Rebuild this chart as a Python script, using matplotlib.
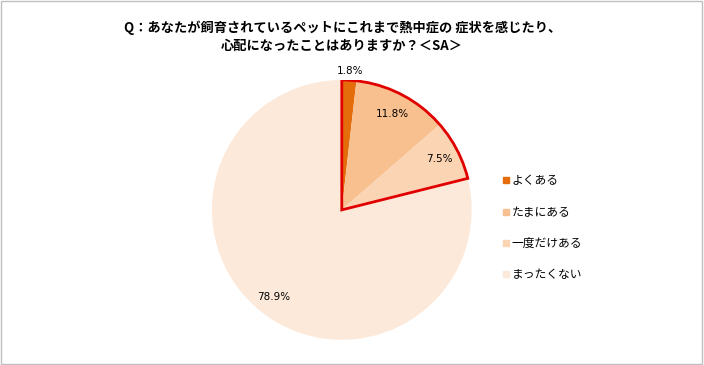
import matplotlib.pyplot as plt
import numpy as np
from matplotlib.patches import Wedge, Rectangle
from matplotlib.lines import Line2D

plt.rcParams['font.family'] = ['Noto Sans CJK JP', 'DejaVu Sans']

# data
categories = ["よくある", "たまにある", "一度だけある", "まったくない"]
values = [1.8, 11.8, 7.5, 78.9]
colors = ["#E46C0A", "#F9C08F", "#FBD4B4", "#FDE9D9"]
label_dist = [1.07, 0.83, 0.85, 0.85]
title = "Q：あなたが飼育されているペットにこれまで熱中症の 症状を感じたり、\n心配になったことはありますか？＜SA＞"

fig = plt.figure(figsize=(7.04, 3.65), dpi=100)
fig.patches.append(Rectangle((0.002, 0.003), 0.995, 0.993, transform=fig.transFigure,
                             fill=False, edgecolor="#BFBFBF", linewidth=1))

ax = fig.add_axes([0.301, 0.069, 0.369, 0.712])
wedges, _ = ax.pie(values, colors=colors, startangle=90, counterclock=False, radius=1.0)

# percentage labels
total = sum(values)
cum = 0
for v, d in zip(values, label_dist):
    mid = np.deg2rad(90 - (cum + v / 2) / total * 360)
    ax.text(d * np.cos(mid), d * np.sin(mid), f"{v}%", ha="center", va="center",
            fontsize=7.5, family="DejaVu Sans")
    cum += v

# red outline around the "experienced" slices
exp_sum = sum(values[:3])
ax.add_patch(Wedge((0, 0), 1.0, 90 - exp_sum / total * 360, 90, fill=False,
                   edgecolor="#E00000", linewidth=2, zorder=5))

ax.set_xlim(-1, 1)
ax.set_ylim(-1, 1)
ax.set_aspect("equal")
ax.axis("off")

handles = [Line2D([0], [0], marker="s", linestyle="none", markersize=5,
                  markerfacecolor=c, markeredgecolor=c, label=l) for c, l in zip(colors, categories)]
fig.legend(handles=handles, loc="upper left", bbox_to_anchor=(0.705, 0.535), frameon=False,
           fontsize=8.5, handletextpad=0.1, handlelength=0.8, labelspacing=1.55, borderaxespad=0)

fig.text(0.486, 0.9, title, ha="center", va="center", fontsize=9.5, fontweight="bold",
         linespacing=1.35)

fig.savefig("out.png", dpi=100)
